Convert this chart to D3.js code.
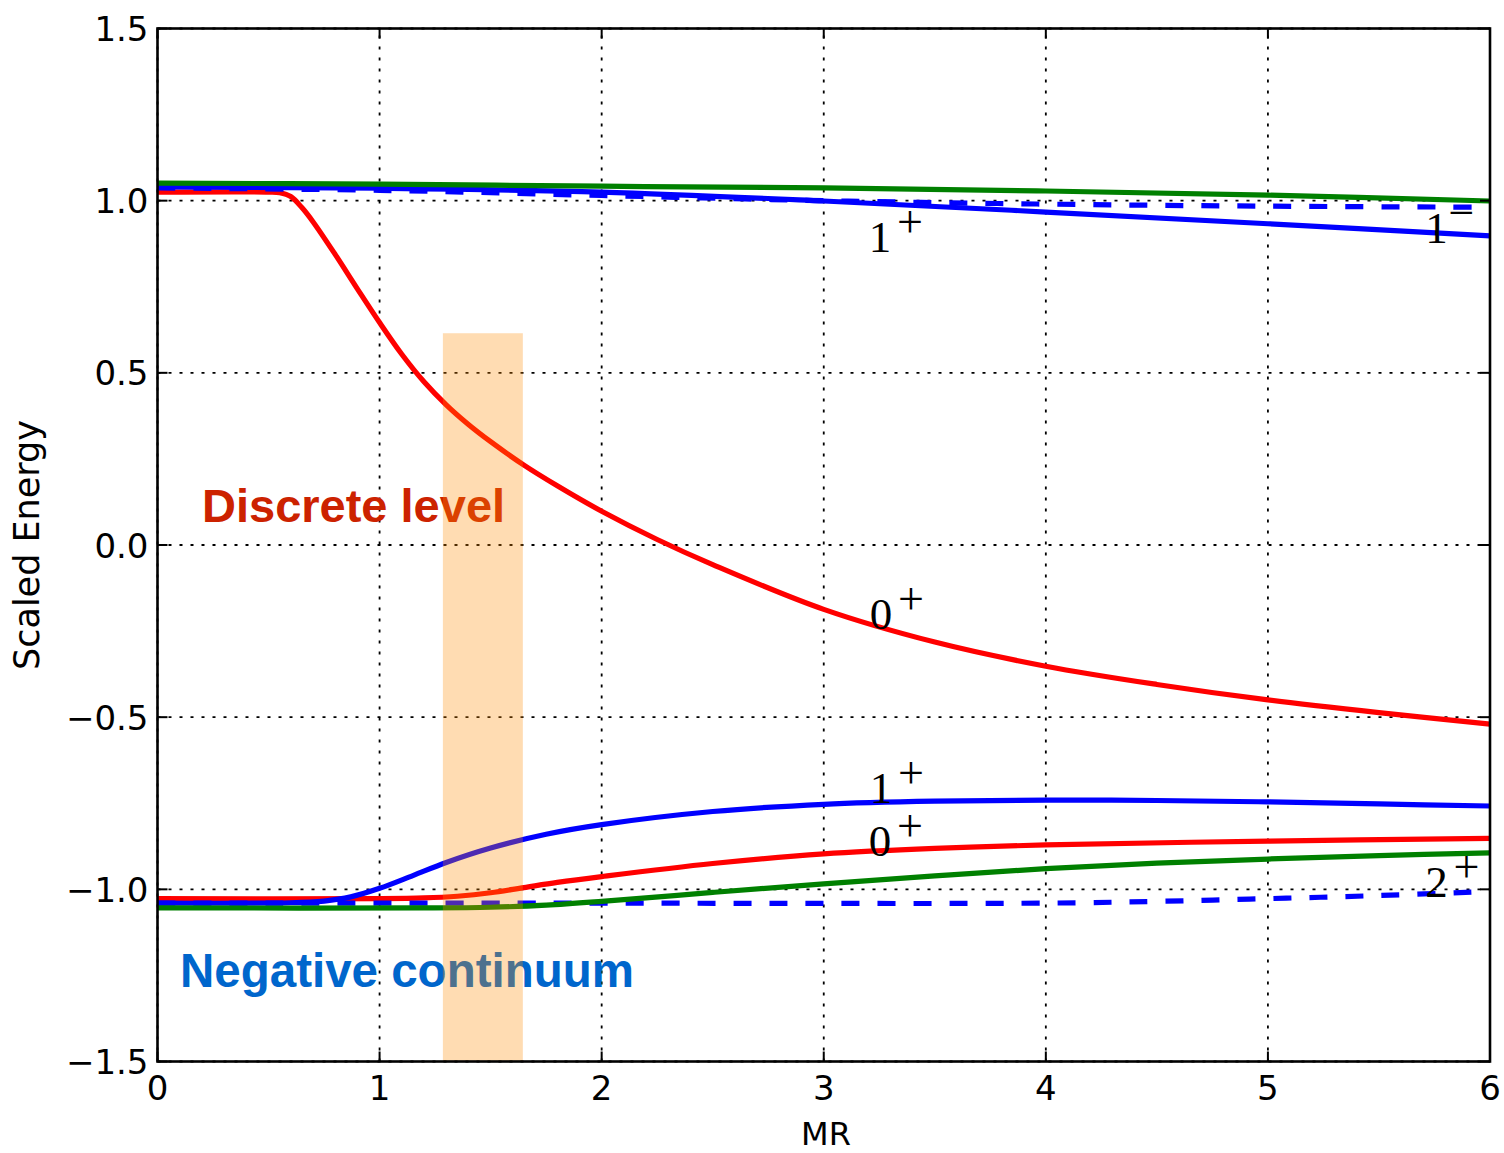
<!DOCTYPE html>
<html>
<head>
<meta charset="utf-8">
<script src="https://cdn.jsdelivr.net/npm/d3@7"></script>
<style>
  body { margin: 0; background: #fff; }
  svg { display: block; }
</style>
</head>
<body>
<script>
// tick values
var xTicks = [0, 1, 2, 3, 4, 5, 6];
var yTicks = [-1.5, -1.0, -0.5, 0.0, 0.5, 1.0, 1.5];

// upper branches
var redUpX = [0, 0.5, 0.55, 0.6, 0.65, 0.7, 0.8, 0.9, 1.0, 1.1, 1.2, 1.3, 1.4, 1.5, 1.65, 1.8, 2.0, 2.25, 2.5, 3.0, 3.5, 4.0, 4.5, 5.0, 5.5, 6.0];
var redUpY = [1.025, 1.025, 1.023, 1.012, 0.98, 0.939, 0.844, 0.744, 0.646, 0.554, 0.474, 0.407, 0.35, 0.3, 0.232, 0.172, 0.098, 0.016, -0.057, -0.187, -0.282, -0.352, -0.405, -0.45, -0.487, -0.52];

var blueUpX = [0, 1, 2, 3, 4, 5, 6];
var blueUpY = [1.04, 1.036, 1.025, 0.999, 0.967, 0.933, 0.898];

var blueUpDashX = [0, 1, 2, 3, 4, 5, 6];
var blueUpDashY = [1.037, 1.03, 1.015, 1.0, 0.99, 0.984, 0.981];

var greenUpX = [0, 1, 2, 3, 4, 5, 6];
var greenUpY = [1.051, 1.048, 1.042, 1.037, 1.028, 1.016, 0.999];

// lower branches
var redLowX = [0, 1.0, 1.2, 1.35, 1.5, 1.65, 1.8, 2.0, 2.5, 3.0, 3.5, 4.0, 5.0, 6.0];
var redLowY = [-1.027, -1.027, -1.025, -1.02, -1.01, -0.995, -0.98, -0.963, -0.925, -0.897, -0.881, -0.871, -0.86, -0.852];

var blueLowX = [0, 0.6, 0.75, 0.87, 1.0, 1.15, 1.3, 1.5, 1.75, 2.0, 2.5, 3.0, 3.5, 4.0, 4.5, 5.0, 5.5, 6.0];
var blueLowY = [-1.04, -1.039, -1.034, -1.022, -0.997, -0.96, -0.922, -0.88, -0.84, -0.812, -0.774, -0.753, -0.744, -0.741, -0.742, -0.746, -0.752, -0.758];

var blueLowDashX = [0, 2, 3, 4, 4.5, 5.0, 5.5, 6.0];
var blueLowDashY = [-1.04, -1.04, -1.041, -1.04, -1.035, -1.027, -1.018, -1.006];

var greenLowX = [0, 1.2, 1.5, 1.75, 2.0, 2.5, 3.0, 3.5, 4.0, 4.5, 5.0, 5.5, 6.0];
var greenLowY = [-1.054, -1.054, -1.052, -1.046, -1.035, -1.009, -0.984, -0.961, -0.94, -0.924, -0.912, -0.902, -0.894];

// state labels (digit, superscript, x, baseline y in data units)
var stateDigits = ["1", "1", "0", "1", "0", "2"];
var stateSups = ["+", "\u2212", "+", "+", "+", "+"];
var stateX = [3.253, 5.759, 3.258, 3.258, 3.253, 5.759];
var stateY = [0.851, 0.877, -0.244, -0.749, -0.903, -1.022];

// shaded band
var bandX = [1.285, 1.645];
var bandTop = 0.615;

var width = 1504, height = 1153;
var margin = { top: 28.5, right: 14, bottom: 91.5, left: 157.5 };

var svg = d3.select("body").append("svg")
    .attr("width", width)
    .attr("height", height);

var x = d3.scaleLinear().domain([0, 6]).range([margin.left, width - margin.right]);
var y = d3.scaleLinear().domain([-1.5, 1.5]).range([height - margin.bottom, margin.top]);

var tickFont = "'DejaVu Sans', sans-serif";

// grid
var grid = svg.append("g")
    .attr("stroke", "#000")
    .attr("stroke-width", 1.8)
    .attr("stroke-dasharray", "3,8");

grid.selectAll(".vgrid")
    .data(xTicks)
    .enter().append("line")
    .attr("x1", function(d) { return x(d); })
    .attr("x2", function(d) { return x(d); })
    .attr("y1", y(-1.5))
    .attr("y2", y(1.5));

grid.selectAll(".hgrid")
    .data(yTicks)
    .enter().append("line")
    .attr("x1", x(0))
    .attr("x2", x(6))
    .attr("y1", function(d) { return y(d); })
    .attr("y2", function(d) { return y(d); });

// curves
var line = d3.line()
    .x(function(d) { return x(d[0]); })
    .y(function(d) { return y(d[1]); })
    .curve(d3.curveCatmullRom.alpha(0.5));

function zip(xs, ys) {
    return xs.map(function(v, i) { return [v, ys[i]]; });
}

var curves = [
    { pts: zip(redUpX, redUpY), color: "#ff0000", dash: null },
    { pts: zip(redLowX, redLowY), color: "#ff0000", dash: null },
    { pts: zip(blueUpX, blueUpY), color: "#0000ff", dash: null },
    { pts: zip(blueLowX, blueLowY), color: "#0000ff", dash: null },
    { pts: zip(blueUpDashX, blueUpDashY), color: "#0000ff", dash: "18,18" },
    { pts: zip(blueLowDashX, blueLowDashY), color: "#0000ff", dash: "18,18" },
    { pts: zip(greenUpX, greenUpY), color: "#008000", dash: null },
    { pts: zip(greenLowX, greenLowY), color: "#008000", dash: null }
];

svg.append("g").selectAll("path")
    .data(curves)
    .enter().append("path")
    .attr("fill", "none")
    .attr("stroke", function(d) { return d.color; })
    .attr("stroke-width", 5.2)
    .attr("stroke-dasharray", function(d) { return d.dash; })
    .attr("d", function(d) { return line(d.pts); });

// state labels
var states = svg.append("g")
    .attr("font-family", "'Liberation Serif', 'DejaVu Serif', serif")
    .attr("fill", "#000");

stateDigits.forEach(function(dg, i) {
    var px = x(stateX[i]), py = y(stateY[i]);
    states.append("text")
        .attr("x", px)
        .attr("y", py)
        .attr("text-anchor", "middle")
        .attr("font-size", 45)
        .text(dg);
    states.append("text")
        .attr("x", px + (stateSups[i] === "+" ? 30 : 25))
        .attr("y", py - 15)
        .attr("text-anchor", "middle")
        .attr("font-size", 46)
        .text(stateSups[i]);
});

// region annotations
svg.append("text")
    .attr("x", 202)
    .attr("y", 521.5)
    .attr("font-family", "'Liberation Sans', Arial, sans-serif")
    .attr("font-weight", "bold")
    .attr("font-size", 47)
    .attr("fill", "#cc2200")
    .text("Discrete level");

svg.append("text")
    .attr("x", 180)
    .attr("y", 986.5)
    .attr("font-family", "'Liberation Sans', Arial, sans-serif")
    .attr("font-weight", "bold")
    .attr("font-size", 47.5)
    .attr("fill", "#0066cc")
    .text("Negative continuum");

// shaded band drawn on top
svg.append("rect")
    .attr("x", x(bandX[0]))
    .attr("y", y(bandTop))
    .attr("width", x(bandX[1]) - x(bandX[0]))
    .attr("height", y(-1.5) - y(bandTop))
    .attr("fill", "#ff8c00")
    .attr("fill-opacity", 0.3);

// frame
svg.append("rect")
    .attr("x", x(0))
    .attr("y", y(1.5))
    .attr("width", x(6) - x(0))
    .attr("height", y(-1.5) - y(1.5))
    .attr("fill", "none")
    .attr("stroke", "#000")
    .attr("stroke-width", 2.6);

// inward ticks on all four sides
var tickLen = 10;
var ticks = svg.append("g").attr("stroke", "#000").attr("stroke-width", 2);

xTicks.forEach(function(d) {
    ticks.append("line").attr("x1", x(d)).attr("x2", x(d))
        .attr("y1", y(-1.5)).attr("y2", y(-1.5) - tickLen);
    ticks.append("line").attr("x1", x(d)).attr("x2", x(d))
        .attr("y1", y(1.5)).attr("y2", y(1.5) + tickLen);
});
yTicks.forEach(function(d) {
    ticks.append("line").attr("x1", x(0)).attr("x2", x(0) + tickLen)
        .attr("y1", y(d)).attr("y2", y(d));
    ticks.append("line").attr("x1", x(6)).attr("x2", x(6) - tickLen)
        .attr("y1", y(d)).attr("y2", y(d));
});

// tick labels
var fmtY = d3.format(".1f");

svg.append("g").selectAll("text")
    .data(xTicks)
    .enter().append("text")
    .attr("x", function(d) { return x(d); })
    .attr("y", 1100)
    .attr("text-anchor", "middle")
    .attr("font-family", tickFont)
    .attr("font-size", 34)
    .text(function(d) { return d; });

svg.append("g").selectAll("text")
    .data(yTicks)
    .enter().append("text")
    .attr("x", x(0) - 9)
    .attr("y", function(d) { return y(d) + 12.5; })
    .attr("text-anchor", "end")
    .attr("font-family", tickFont)
    .attr("font-size", 34)
    .text(function(d) { return fmtY(d); });

// axis titles
svg.append("text")
    .attr("x", 826)
    .attr("y", 1145)
    .attr("text-anchor", "middle")
    .attr("font-family", tickFont)
    .attr("font-size", 32)
    .text("MR");

svg.append("text")
    .attr("transform", "translate(39,545) rotate(-90)")
    .attr("text-anchor", "middle")
    .attr("font-family", tickFont)
    .attr("font-size", 35)
    .text("Scaled Energy");
</script>
</body>
</html>
